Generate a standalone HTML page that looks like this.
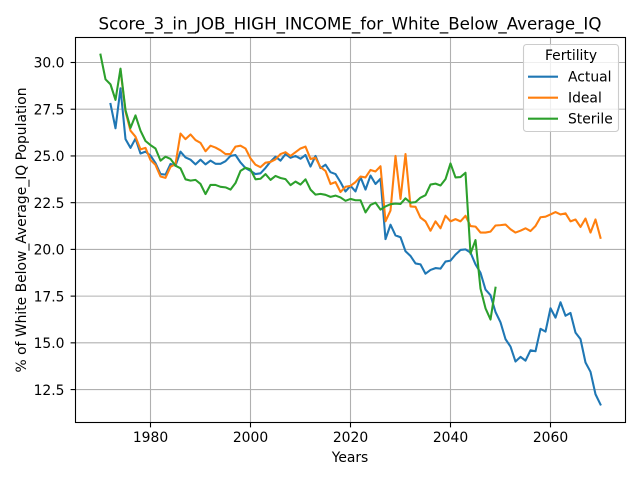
<!DOCTYPE html>
<html>
<head>
<meta charset="utf-8">
<title>Score_3_in_JOB_HIGH_INCOME_for_White_Below_Average_IQ</title>
<style>
html,body{margin:0;padding:0;background:#fff;width:640px;height:480px;overflow:hidden}
svg{display:block}
text{font-family:"DejaVu Sans","Liberation Sans",sans-serif;fill:#000}
</style>
</head>
<body>
<svg id="chart" xmlns="http://www.w3.org/2000/svg" width="640" height="480" viewBox="0 0 640 480">
<rect x="0" y="0" width="640" height="480" fill="#fff"/>
<g id="grid"></g>
<g id="series"></g>
<rect x="75.5" y="37.5" width="550" height="385" fill="none" stroke="#000" stroke-width="1.1"/>
<g id="ticks"></g>
<text x="350" y="29.5" font-size="16.67" text-anchor="middle">Score_3_in_JOB_HIGH_INCOME_for_White_Below_Average_IQ</text>
<text x="350" y="462" font-size="13.89" text-anchor="middle">Years</text>
<text transform="translate(26,230) rotate(-90)" font-size="13.89" text-anchor="middle">% of White Below_Average_IQ Population</text>
<g>
<rect x="523.5" y="44.5" width="95" height="87" rx="3" ry="3" fill="#fff" fill-opacity="0.8" stroke="#ccc" stroke-width="1.1"/>
<text x="571" y="60" font-size="13.89" text-anchor="middle">Fertility</text>
<line x1="528" x2="558" y1="76.7" y2="76.7" stroke="#1f77b4" stroke-width="2.08"/>
<text x="568" y="81.5" font-size="13.89">Actual</text>
<line x1="528" x2="558" y1="97.7" y2="97.7" stroke="#ff7f0e" stroke-width="2.08"/>
<text x="568" y="102.5" font-size="13.89">Ideal</text>
<line x1="528" x2="558" y1="118.7" y2="118.7" stroke="#2ca02c" stroke-width="2.08"/>
<text x="568" y="123.5" font-size="13.89">Sterile</text>
</g>
</svg>
<script>
const actualStart = 1972;
const idealStart = 1974;
const sterileStart = 1970;
const actualValues = [27.78,26.48,28.62,25.9,25.43,25.93,25.13,25.23,25.02,24.62,24.03,24.0,24.57,24.48,25.23,24.92,24.8,24.55,24.8,24.55,24.75,24.58,24.58,24.72,25.0,25.05,24.65,24.35,24.2,24.03,24.07,24.36,24.7,24.96,24.75,25.1,24.9,25.0,24.85,25.05,24.43,25.0,24.35,24.53,24.13,24.03,23.6,23.1,23.4,23.1,23.87,23.2,23.95,23.5,23.78,20.55,21.32,20.75,20.65,19.9,19.65,19.25,19.2,18.7,18.9,19.0,18.97,19.35,19.4,19.72,19.97,20.0,19.83,19.2,18.75,17.85,17.55,16.65,16.1,15.2,14.8,14.0,14.25,14.05,14.6,14.55,15.75,15.6,16.85,16.35,17.17,16.45,16.6,15.55,15.2,13.95,13.45,12.25,11.7];
const idealValues = [29.6,27.37,26.35,26.03,25.35,25.43,24.78,24.52,23.9,23.83,24.42,24.57,26.2,25.9,26.15,25.85,25.7,25.25,25.55,25.45,25.3,25.1,25.1,25.5,25.55,25.4,24.87,24.53,24.4,24.64,24.68,24.82,25.1,25.2,25.0,25.2,25.4,25.5,24.84,24.9,24.4,24.2,23.5,23.6,23.07,23.35,23.4,23.6,23.9,23.85,24.25,24.17,24.45,21.5,22.08,25.0,22.7,25.1,22.3,22.28,21.7,21.5,21.0,21.5,21.13,21.8,21.5,21.62,21.5,21.8,21.25,21.22,20.9,20.9,20.95,21.28,21.3,21.33,21.08,20.9,21.0,21.13,20.98,21.25,21.72,21.75,21.87,22.0,21.87,21.93,21.5,21.6,21.2,21.65,20.9,21.6,20.62];
const sterileValues = [30.42,29.1,28.83,28.0,29.67,27.45,26.5,27.17,26.35,25.8,25.58,25.4,24.75,24.96,24.84,24.48,24.34,23.75,23.68,23.72,23.5,22.96,23.45,23.45,23.35,23.32,23.2,23.55,24.2,24.37,24.28,23.75,23.78,24.03,23.72,23.93,23.82,23.76,23.44,23.63,23.47,23.75,23.2,22.93,22.97,22.92,22.81,22.88,22.78,22.6,22.7,22.63,22.63,21.98,22.38,22.5,22.13,22.3,22.42,22.45,22.43,22.73,22.5,22.53,22.77,22.9,23.47,23.52,23.42,23.76,24.6,23.85,23.87,24.1,19.77,20.5,17.9,16.85,16.25,17.95];
const xTicks = [1980,2000,2020,2040,2060];
const yTicks = [12.5,15.0,17.5,20.0,22.5,25.0,27.5,30.0];

const NS = 'http://www.w3.org/2000/svg';
function xScale(year) { return 150.5 + (year - 1980) * 5; }
function yScale(v) { return 62.5 + (30 - v) * 18.69; }
function make(tag, parent, attrs) {
  const el = document.createElementNS(NS, tag);
  for (const k in attrs) el.setAttribute(k, attrs[k]);
  parent.appendChild(el);
  return el;
}
const gridG = document.getElementById('grid');
const ticksG = document.getElementById('ticks');
const seriesG = document.getElementById('series');

xTicks.forEach(function (t) {
  const x = xScale(t);
  const gl = make('line', gridG, {x1: x, x2: x, y1: 37.5, y2: 422.5, stroke: '#b0b0b0', 'stroke-width': 1.1});
  
  
  const tk = make('line', ticksG, {x1: x, x2: x, y1: 422.5, y2: 427.4, stroke: '#000', 'stroke-width': 1.1});
  
  
  const lb = make('text', ticksG, {x: x, y: 442, 'font-size': 13.89, 'text-anchor': 'middle'});
  
  
  lb.textContent = String(t);
});
yTicks.forEach(function (t) {
  const y = yScale(t);
  const gl = make('line', gridG, {x1: 75.5, x2: 625.5, y1: y, y2: y, stroke: '#b0b0b0', 'stroke-width': 1.1});
  
  
  const tk = make('line', ticksG, {x1: 70.6, x2: 75.5, y1: y, y2: y, stroke: '#000', 'stroke-width': 1.1});
  
  
  const lb = make('text', ticksG, {x: 64.5, y: y + 5.2, 'font-size': 13.89, 'text-anchor': 'end'});
  
  
  lb.textContent = t.toFixed(1);
});
function pointsFor(start, values) {
  return values.map(function (v, i) {
    return xScale(start + i).toFixed(2) + ',' + yScale(v).toFixed(2);
  }).join(' ');
}
function drawSeries(start, values, color) {
  return make('polyline', seriesG, {
    points: pointsFor(start, values),
    fill: 'none',
    stroke: color,
    'stroke-width': 2.08,
    'stroke-linejoin': 'round',
    'stroke-linecap': 'square'
  });
}
const actualLine = drawSeries(actualStart, actualValues, '#1f77b4');


const idealLine = drawSeries(idealStart, idealValues, '#ff7f0e');


const sterileLine = drawSeries(sterileStart, sterileValues, '#2ca02c');


</script>
</body>
</html>
